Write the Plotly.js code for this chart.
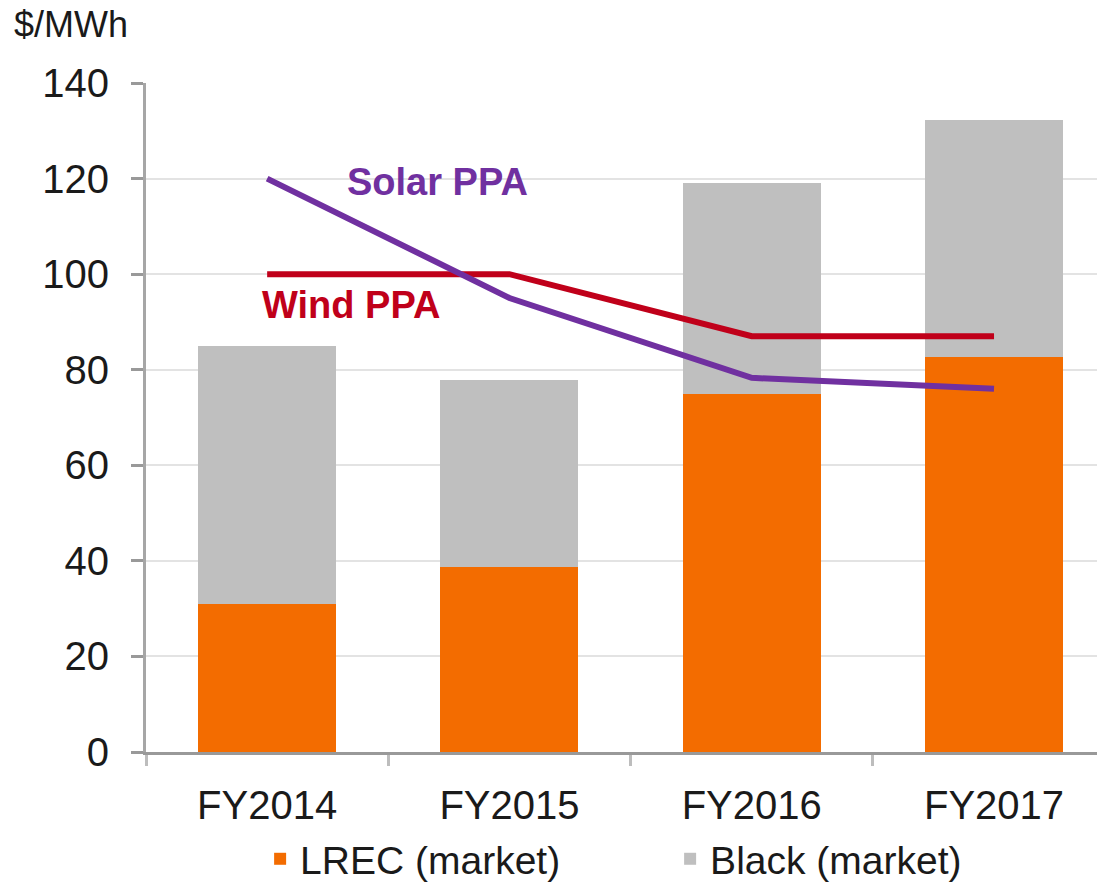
<!DOCTYPE html>
<html>
<head>
<meta charset="utf-8">
<script src="https://cdn.plot.ly/plotly-3.0.1.min.js"></script>
<style>html,body{margin:0;padding:0;overflow:hidden;background:#fff}#chart{width:1097px;height:883px}</style>
</head>
<body>
<div id="chart"></div>
<script>
const categories = ["FY2014", "FY2015", "FY2016", "FY2017"];
const lrecValues = [31, 38.7, 75, 82.6];
const blackValues = [54, 39.1, 44, 49.6];
const solarPPA = [120, 95, 78.3, 76];
const windPPA = [100, 100, 87, 87];
const yTicks = [0, 20, 40, 60, 80, 100, 120, 140];

const FONT = "Liberation Sans, Arial, sans-serif";

const traces = [
  {type: "bar", name: "LREC (market)", x: categories, y: lrecValues,
   marker: {color: "#F36C00", line: {width: 0}}, width: 0.57, hoverinfo: "none"},
  {type: "bar", name: "Black (market)", x: categories, y: blackValues,
   marker: {color: "#BFBFBF", line: {width: 0}}, width: 0.57, hoverinfo: "none"},
  {type: "scatter", mode: "lines", name: "Wind PPA", x: categories, y: windPPA,
   line: {color: "#C0001A", width: 6}, showlegend: false, hoverinfo: "none"},
  {type: "scatter", mode: "lines", name: "Solar PPA", x: categories, y: solarPPA,
   line: {color: "#7030A0", width: 6}, showlegend: false, hoverinfo: "none"}
];

const layout = {
  width: 1097, height: 883,
  margin: {l: 146, r: 0, t: 83, b: 131, autoexpand: false},
  paper_bgcolor: "#fff", plot_bgcolor: "#fff",
  barmode: "stack",
  font: {family: FONT, size: 39, color: "#1a1a1a"},
  xaxis: {
    type: "category", range: [-0.5, 3.425], automargin: false,
    tickson: "boundaries", ticks: "outside", ticklen: 11, tickwidth: 3, tickcolor: "#BDBDBD",
    showline: true, linecolor: "#999999", linewidth: 3,
    showgrid: false, zeroline: false,
    tickfont: {family: FONT, size: 40, color: "#1a1a1a"},
    ticklabelstandoff: 16
  },
  yaxis: {
    range: [0, 140], tickvals: yTicks, ticktext: yTicks.map(String), automargin: false,
    ticks: "outside", ticklen: 12, tickwidth: 3, tickcolor: "#999999",
    showline: true, linecolor: "#A6A6A6", linewidth: 3,
    showgrid: true, gridcolor: "#E3E3E3", gridwidth: 2,
    zeroline: false,
    tickfont: {family: FONT, size: 40, color: "#1a1a1a"},
    ticklabelstandoff: 14
  },
  showlegend: true,
  legend: {
    orientation: "h", x: 0.12, xanchor: "left", y: -0.112, yanchor: "top",
    font: {family: FONT, size: 39, color: "#1a1a1a"},
    itemwidth: 30, entrywidth: 365, entrywidthmode: "pixels",
    traceorder: "normal"
  },
  annotations: [
    {text: "$/MWh", xref: "paper", yref: "paper", x: -0.141, y: 1.087, xanchor: "left", yanchor: "middle",
     showarrow: false, font: {family: FONT, size: 36, color: "#1a1a1a"}},
    {text: "<b>Solar PPA</b>", xref: "paper", yref: "y", x: 0.209, y: 119.3, xanchor: "left", yanchor: "middle",
     showarrow: false, font: {family: FONT, size: 38, color: "#7030A0"}},
    {text: "<b>Wind PPA</b>", xref: "paper", yref: "y", x: 0.12, y: 93.5, xanchor: "left", yanchor: "middle",
     showarrow: false, font: {family: FONT, size: 38, color: "#C0001A"}}
  ]
};

Plotly.newPlot("chart", traces, layout, {displayModeBar: false, staticPlot: true});
</script>
</body>
</html>
